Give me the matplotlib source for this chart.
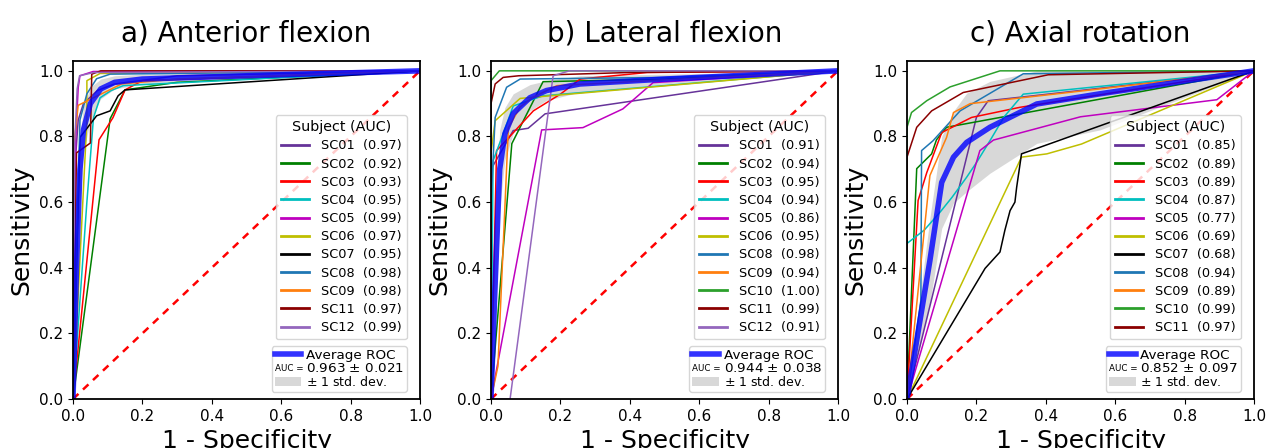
import matplotlib
matplotlib.use("Agg")
import matplotlib.pyplot as plt
import numpy as np
from matplotlib.lines import Line2D
from matplotlib.patches import Patch
from matplotlib.text import Text
from matplotlib.legend_handler import HandlerBase

# ---------------- data ----------------
titles = ["a) Anterior flexion", "b) Lateral flexion", "c) Axial rotation"]

colors = {"SC01": "#663399", "SC02": "g", "SC03": "r", "SC04": "c", "SC05": "m",
          "SC06": "y", "SC07": "k", "SC08": "tab:blue", "SC09": "tab:orange",
          "SC10": "tab:green", "SC11": "#8b0000", "SC12": "tab:purple"}

# Panel a
a_subjects = ["SC01", "SC02", "SC03", "SC04", "SC05", "SC06", "SC07", "SC08", "SC09", "SC11", "SC12"]
a_auc = [0.97, 0.92, 0.93, 0.95, 0.99, 0.97, 0.95, 0.98, 0.98, 0.97, 0.99]
a_fpr = [
    [0, 0.005, 0.015, 0.03, 0.07, 0.12, 0.3, 1],
    [0, 0.107, 0.15, 0.3, 1],
    [0, 0.075, 0.115, 0.15, 0.2, 1],
    [0, 0.04, 0.059, 0.078, 0.11, 0.145, 1],
    [0, 0.008, 0.015, 0.02, 0.058, 1],
    [0, 0.04, 0.04, 0.078, 1],
    [0, 0.02, 0.068, 0.107, 0.13, 0.15, 1],
    [0, 0.02, 0.04, 0.068, 0.107, 1],
    [0, 0.0, 0.015, 0.14, 0.3, 1],
    [0, 0.01, 0.05, 0.054, 0.08, 1],
    [0, 0.005, 0.012, 0.019, 0.06, 1],
]
a_tpr = [
    [0, 0.7, 0.85, 0.9, 0.94, 0.96, 0.985, 1],
    [0, 0.854, 0.942, 0.965, 1],
    [0, 0.79, 0.857, 0.942, 0.97, 1],
    [0, 0.6, 0.857, 0.918, 0.94, 0.955, 1],
    [0, 0.8, 0.949, 0.985, 0.998, 1],
    [0, 0.85, 0.97, 0.992, 1],
    [0, 0.797, 0.863, 0.878, 0.924, 0.942, 1],
    [0, 0.85, 0.93, 0.976, 0.99, 1],
    [0, 0.75, 0.895, 0.96, 0.975, 1],
    [0, 0.75, 0.78, 0.99, 1.0, 1],
    [0, 0.78, 0.945, 0.985, 0.995, 1],
]
a_mean_fpr = [0, 0.01, 0.02, 0.03, 0.05, 0.08, 0.12, 0.2, 0.5, 1]
a_mean_tpr = [0, 0.4, 0.7, 0.82, 0.9, 0.945, 0.965, 0.975, 0.985, 1]
a_std_tpr = [0, 0.15, 0.1, 0.07, 0.05, 0.03, 0.02, 0.015, 0.01, 0]
a_mean_auc, a_std_auc = 0.963, 0.021

# Panel b
b_subjects = ["SC01", "SC02", "SC03", "SC04", "SC05", "SC06", "SC08", "SC09", "SC10", "SC11", "SC12"]
b_auc = [0.91, 0.94, 0.95, 0.94, 0.86, 0.95, 0.98, 0.94, 1.00, 0.99, 0.91]
b_fpr = [
    [0, 0.0, 0.064, 0.107, 0.156, 1],
    [0, 0.06, 0.15, 0.5, 1],
    [0, 0.016, 0.035, 0.122, 0.2, 0.257, 0.45, 1],
    [0, 0.006, 0.035, 0.064, 0.15, 1],
    [0, 0.146, 0.265, 0.38, 0.467, 1],
    [0, 0.0, 0.012, 0.084, 1],
    [0, 0.0, 0.012, 0.045, 0.084, 0.5, 1],
    [0, 0.02, 0.05, 0.084, 0.122, 0.19, 1],
    [0, 0.0, 0.024, 1],
    [0, 0.0, 0.012, 0.035, 0.08, 0.4, 1],
    [0, 0.055, 0.179, 0.226, 1],
]
b_tpr = [
    [0, 0.70, 0.818, 0.825, 0.869, 1],
    [0, 0.778, 0.967, 0.975, 1],
    [0, 0.757, 0.778, 0.878, 0.929, 0.975, 0.995, 1],
    [0, 0.726, 0.808, 0.893, 0.924, 1],
    [0, 0.82, 0.827, 0.884, 0.964, 1],
    [0, 0.75, 0.848, 0.916, 1],
    [0, 0.6, 0.858, 0.95, 0.975, 0.98, 1],
    [0, 0.1, 0.826, 0.89, 0.92, 0.955, 1],
    [0, 0.97, 1.0, 1],
    [0, 0.9, 0.96, 0.98, 0.985, 0.995, 1],
    [0, 0.0, 0.985, 1.0, 1],
]
b_mean_fpr = [0, 0.01, 0.025, 0.04, 0.064, 0.112, 0.16, 0.256, 0.5, 1]
b_mean_tpr = [0, 0.3, 0.7, 0.808, 0.87, 0.918, 0.94, 0.96, 0.975, 1]
b_std_tpr = [0, 0.2, 0.12, 0.08, 0.06, 0.04, 0.03, 0.025, 0.015, 0]
b_mean_auc, b_std_auc = 0.944, 0.038

# Panel c
c_subjects = ["SC01", "SC02", "SC03", "SC04", "SC05", "SC06", "SC07", "SC08", "SC09", "SC10", "SC11"]
c_auc = [0.85, 0.89, 0.89, 0.87, 0.77, 0.69, 0.68, 0.94, 0.89, 0.99, 0.97]
c_fpr = [
    [0, 0.2, 0.234, 0.364, 1],
    [0, 0.028, 0.071, 0.085, 0.114, 1],
    [0, 0.032, 0.057, 0.1, 0.186, 0.326, 1],
    [0, 0.0, 0.05, 0.095, 0.13, 0.172, 0.2, 0.239, 0.28, 0.335, 1],
    [0, 0.21, 0.249, 0.5, 0.893, 1],
    [0, 0.33, 0.403, 0.503, 1],
    [0, 0.225, 0.268, 0.282, 0.297, 0.311, 0.316, 0.33, 1],
    [0, 0.04, 0.042, 0.075, 0.153, 0.335, 1],
    [0, 0.066, 0.114, 0.134, 0.182, 0.556, 1],
    [0, 0.0, 0.013, 0.057, 0.124, 0.268, 1],
    [0, 0.0, 0.028, 0.071, 0.162, 0.407, 1],
]
c_tpr = [
    [0, 0.858, 0.909, 0.924, 1],
    [0, 0.702, 0.747, 0.79, 0.828, 1],
    [0, 0.605, 0.69, 0.812, 0.858, 0.889, 1],
    [0, 0.474, 0.515, 0.569, 0.615, 0.676, 0.72, 0.787, 0.86, 0.929, 1],
    [0, 0.757, 0.789, 0.86, 0.912, 1],
    [0, 0.737, 0.747, 0.777, 1],
    [0, 0.398, 0.448, 0.514, 0.574, 0.6, 0.645, 0.747, 1],
    [0, 0.3, 0.757, 0.787, 0.878, 0.991, 1],
    [0, 0.681, 0.797, 0.873, 0.9, 0.945, 1],
    [0, 0.828, 0.873, 0.909, 0.951, 1.0, 1],
    [0, 0.737, 0.828, 0.878, 0.934, 0.988, 1],
]
c_mean_fpr = [0, 0.066, 0.1, 0.134, 0.172, 0.239, 0.374, 0.556, 1]
c_mean_tpr = [0, 0.422, 0.66, 0.737, 0.782, 0.828, 0.899, 0.93, 1]
c_std_tpr = [0, 0.13, 0.14, 0.14, 0.15, 0.14, 0.12, 0.11, 0]
c_mean_auc, c_std_auc = 0.852, 0.097

panels = [
    (a_subjects, a_auc, a_fpr, a_tpr, a_mean_fpr, a_mean_tpr, a_std_tpr, a_mean_auc, a_std_auc),
    (b_subjects, b_auc, b_fpr, b_tpr, b_mean_fpr, b_mean_tpr, b_std_tpr, b_mean_auc, b_std_auc),
    (c_subjects, c_auc, c_fpr, c_tpr, c_mean_fpr, c_mean_tpr, c_std_tpr, c_mean_auc, c_std_auc),
]


class HandlerSmallText(HandlerBase):
    def __init__(self, text, size):
        super().__init__()
        self.text = text
        self.size = size

    def create_artists(self, legend, orig_handle, xdescent, ydescent, width,
                       height, fontsize, trans):
        t = Text(x=-xdescent, y=-ydescent + height / 2 - 1, text=self.text,
                 fontsize=self.size, va="center", ha="left", transform=trans)
        return [t]


fig = plt.figure(figsize=(12.68, 4.48), dpi=100)
lefts = [73 / 1268, 491 / 1268, 907 / 1268]
W = 347 / 1268
B = 49 / 448
H = 338 / 448

for i, (subs, aucs, fprs, tprs, mfpr, mtpr, stpr, mauc, sauc) in enumerate(panels):
    ax = fig.add_axes([lefts[i], B, W, H])
    for s, auc, f, t in zip(subs, aucs, fprs, tprs):
        ax.plot(f, t, color=colors[s], lw=1.1)
    ax.plot([0, 1], [0, 1], ls="--", color="r", lw=1.8, dashes=(3, 2.5), zorder=1)
    mfpr_a = np.array(mfpr)
    mtpr_a = np.array(mtpr)
    std_a = np.array(stpr)
    upper = np.minimum(mtpr_a + std_a, 1)
    lower = np.maximum(mtpr_a - std_a, 0)
    ax.fill_between(mfpr_a, lower, upper, color="grey", alpha=0.3, lw=0, zorder=0)
    ax.plot(mfpr_a, mtpr_a, color="b", lw=4, alpha=0.8)

    ax.set_xlim(0, 1)
    ax.set_ylim(0, 1.03)
    ax.set_xticks([0, 0.2, 0.4, 0.6, 0.8, 1.0])
    ax.set_yticks([0, 0.2, 0.4, 0.6, 0.8, 1.0])
    ax.tick_params(labelsize=11)
    for sp in ax.spines.values():
        sp.set_linewidth(1.3)
    ax.set_title(titles[i], fontsize=20, pad=14)
    ax.set_xlabel("1 - Specificity", fontsize=18)
    ax.set_ylabel("Sensitivity", fontsize=18)

    labels = [f"{s}  ({a:.2f})" for s, a in zip(subs, aucs)]
    leg_handles = [Line2D([], [], color=colors[s], lw=2) for s in subs]
    leg1 = ax.legend(leg_handles, labels, title="Subject (AUC)", loc="upper right",
                     bbox_to_anchor=(0.9625, 0.84), borderaxespad=0, fontsize=9.3,
                     title_fontsize=10.3, labelspacing=0.4, handlelength=2.2,
                     handletextpad=0.9, borderpad=0.4)
    ax.add_artist(leg1)

    auc_handle = Line2D([], [])
    h2 = [Line2D([], [], color="b", lw=4, alpha=0.8), auc_handle,
          Patch(facecolor="grey", alpha=0.3, edgecolor="none")]
    l2 = ["Average ROC", f"{mauc:.3f} $\\pm$ {sauc:.3f}", "$\\pm$ 1 std. dev."]
    leg2 = ax.legend(h2, l2, loc="lower right", bbox_to_anchor=(0.9625, 0.021),
                     borderaxespad=0, fontsize=9.7, labelspacing=0.0,
                     handlelength=2.0, handletextpad=0.35, borderpad=0.22,
                     handler_map={auc_handle: HandlerSmallText("AUC =", 6.3)})
    leg2.get_texts()[2].set_fontsize(9)

fig.savefig("out.png", dpi=100)
